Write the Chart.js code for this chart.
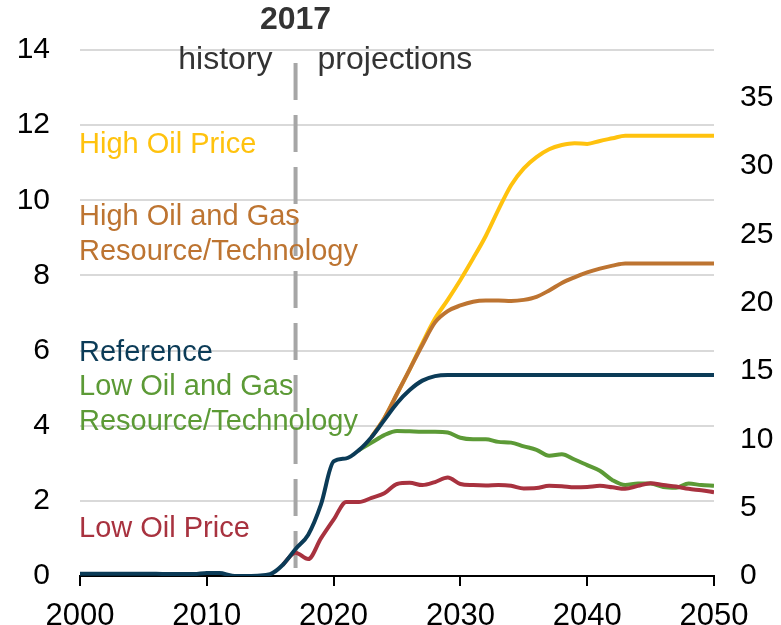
<!DOCTYPE html>
<html lang="en">
<head>
  <meta charset="UTF-8">
  <title>Natural gas exports by case</title>
  <script src="https://cdn.jsdelivr.net/npm/chart.js"></script>
  <style>
    body { margin: 0; background: #fff; }
    #wrap { width: 781px; height: 625px; }
  </style>
</head>
<body>
  <div id="wrap"><canvas id="chart" width="781" height="625"></canvas></div>

  <script>
    const years = [2000, 2001, 2002, 2003, 2004, 2005, 2006, 2007, 2008, 2009,
                   2010, 2011, 2012, 2013, 2014, 2015, 2016, 2017, 2018, 2019,
                   2020, 2021, 2022, 2023, 2024, 2025, 2026, 2027, 2028, 2029,
                   2030, 2031, 2032, 2033, 2034, 2035, 2036, 2037, 2038, 2039,
                   2040, 2041, 2042, 2043, 2044, 2045, 2046, 2047, 2048, 2049, 2050];

    // history (2000-2017) is shared, projections follow
    const reference = [0.06, 0.06, 0.06, 0.06, 0.06, 0.06, 0.06, 0.05, 0.05, 0.05,
                       0.08, 0.08, 0.01, 0.0, 0.01, 0.05, 0.3, 0.72, 1.1, 1.9,
                       3.05, 3.13, 3.35, 3.7, 4.15, 4.6, 4.95, 5.2, 5.32, 5.35,
                       5.35, 5.35, 5.35, 5.35, 5.35, 5.35, 5.35, 5.35, 5.35, 5.35,
                       5.35, 5.35, 5.35, 5.35, 5.35, 5.35, 5.35, 5.35, 5.35, 5.35, 5.35];

    const lowOilPrice = [null, null, null, null, null, null, null, null, null, null,
                         null, null, null, null, null, null, 0.3, 0.62, 0.45, 1.0,
                         1.5, 1.97, 1.97, 2.08, 2.2, 2.45, 2.48, 2.42, 2.5, 2.62,
                         2.45, 2.42, 2.41, 2.42, 2.4, 2.33, 2.34, 2.4, 2.39, 2.36,
                         2.37, 2.4, 2.36, 2.32, 2.4, 2.47, 2.42, 2.38, 2.32, 2.28, 2.23];

    const lowOilGas = [null, null, null, null, null, null, null, null, null, null,
                       null, null, null, null, null, null, null, null, null, null,
                       null, null, 3.35, 3.55, 3.75, 3.86, 3.85, 3.84, 3.84, 3.82,
                       3.68, 3.64, 3.64, 3.57, 3.55, 3.45, 3.36, 3.2, 3.24, 3.1,
                       2.95, 2.8, 2.55, 2.42, 2.46, 2.46, 2.37, 2.35, 2.46, 2.42, 2.4];

    const highOilGas = [null, null, null, null, null, null, null, null, null, null,
                        null, null, null, null, null, null, null, null, null, null,
                        null, null, null, 3.7, 4.2, 4.85, 5.5, 6.15, 6.75, 7.05,
                        7.2, 7.3, 7.33, 7.33, 7.32, 7.35, 7.43, 7.6, 7.8, 7.95,
                        8.08, 8.18, 8.26, 8.32, 8.32, 8.32, 8.32, 8.32, 8.32, 8.32, 8.32];

    const highOilPrice = [null, null, null, null, null, null, null, null, null, null,
                          null, null, null, null, null, null, null, null, null, null,
                          null, null, null, 3.7, 4.2, 4.85, 5.5, 6.2, 6.85, 7.35,
                          7.88, 8.45, 9.05, 9.75, 10.4, 10.85, 11.15, 11.36, 11.47, 11.52,
                          11.5, 11.58, 11.65, 11.72, 11.72, 11.72, 11.72, 11.72, 11.72, 11.72, 11.72];

    const leftTicks = [0, 2, 4, 6, 8, 10, 12, 14];
    const rightTicks = [0, 5, 10, 15, 20, 25, 30, 35];
    const xTicks = [2000, 2010, 2020, 2030, 2040, 2050];
    const splitYear = 2017;

    // case labels drawn inside the plot, left side
    const caseLabels = [
      { lines: ['High Oil Price'], color: '#ffc20e', y: 153 },
      { lines: ['High Oil and Gas', 'Resource/Technology'], color: '#bd7431', y: 225 },
      { lines: ['Reference'], color: '#0b3b57', y: 361 },
      { lines: ['Low Oil and Gas', 'Resource/Technology'], color: '#5c9a36', y: 395 },
      { lines: ['Low Oil Price'], color: '#a8323f', y: 537 }
    ];

    const FONT = 'Liberation Sans, Arial, sans-serif';

    function pts(vals) {
      const out = [];
      vals.forEach((v, i) => { if (v !== null) out.push({ x: years[i], y: v }); });
      return out;
    }

    function line(label, vals, color) {
      return {
        label: label,
        data: pts(vals),
        borderColor: color,
        borderWidth: 4,
        pointRadius: 0,
        fill: false,
        cubicInterpolationMode: 'monotone'
      };
    }

    const overlay = {
      id: 'overlay',
      beforeDatasetsDraw(chart) {
        const ctx = chart.ctx;
        const x = chart.scales.x.getPixelForValue(splitYear);
        ctx.save();
        ctx.strokeStyle = '#a6a6a6';
        ctx.lineWidth = 4;
        ctx.setLineDash([37, 15]);
        ctx.beginPath();
        ctx.moveTo(x, 63);
        ctx.lineTo(x, chart.chartArea.bottom);
        ctx.stroke();
        ctx.restore();
      },
      afterDraw(chart) {
        const ctx = chart.ctx;
        const x = chart.scales.x.getPixelForValue(splitYear);
        ctx.save();
        ctx.textBaseline = 'alphabetic';
        ctx.fillStyle = '#333';
        ctx.font = 'bold 32px ' + FONT;
        ctx.textAlign = 'center';
        ctx.fillText(String(splitYear), x, 29);
        ctx.font = '32px ' + FONT;
        ctx.textAlign = 'right';
        ctx.fillText('history', x - 23, 69);
        ctx.textAlign = 'left';
        ctx.fillText('projections', x + 22, 69);

        ctx.font = '29px ' + FONT;
        caseLabels.forEach(c => {
          ctx.fillStyle = c.color;
          c.lines.forEach((t, i) => ctx.fillText(t, 79, c.y + i * 35));
        });
        ctx.restore();
      }
    };

    new Chart(document.getElementById('chart'), {
      type: 'line',
      data: {
        datasets: [
          line('Reference', reference, '#0b3b57'),
          line('Low Oil Price', lowOilPrice, '#a8323f'),
          line('Low Oil and Gas Resource/Technology', lowOilGas, '#5c9a36'),
          line('High Oil and Gas Resource/Technology', highOilGas, '#bd7431'),
          line('High Oil Price', highOilPrice, '#ffc20e')
        ]
      },
      options: {
        responsive: false,
        animation: false,
        layout: { padding: { top: 50, left: 0, right: 0, bottom: 0 } },
        plugins: { legend: { display: false }, tooltip: { enabled: false } },
        scales: {
          x: {
            type: 'linear',
            min: 2000,
            max: 2050,
            afterFit: s => { s.height = 49; },
            afterBuildTicks: s => { s.ticks = xTicks.map(v => ({ value: v })); },
            border: { display: true, color: '#000', width: 2 },
            grid: { drawOnChartArea: false, drawTicks: true, tickLength: 10, color: '#000', lineWidth: 2 },
            ticks: { color: '#000', font: { family: FONT, size: 31 }, padding: 12, maxRotation: 0,
                     callback: v => String(v) }
          },
          y: {
            position: 'left',
            min: 0,
            max: 14,
            afterFit: s => { s.width = 80; },
            afterBuildTicks: s => { s.ticks = leftTicks.map(v => ({ value: v })); },
            border: { display: false },
            grid: { color: '#d9d9d9', lineWidth: 2, drawTicks: false },
            ticks: { color: '#000', font: { family: FONT, size: 30 }, padding: 30 }
          },
          y2: {
            position: 'right',
            min: 0,
            max: 14 * 2.75,
            afterFit: s => { s.width = 67; },
            afterBuildTicks: s => { s.ticks = rightTicks.map(v => ({ value: v })); },
            border: { display: false },
            grid: { drawOnChartArea: false, drawTicks: false },
            ticks: { color: '#000', font: { family: FONT, size: 30 }, padding: 26 }
          }
        }
      },
      plugins: [overlay]
    });
  </script>
</body>
</html>
